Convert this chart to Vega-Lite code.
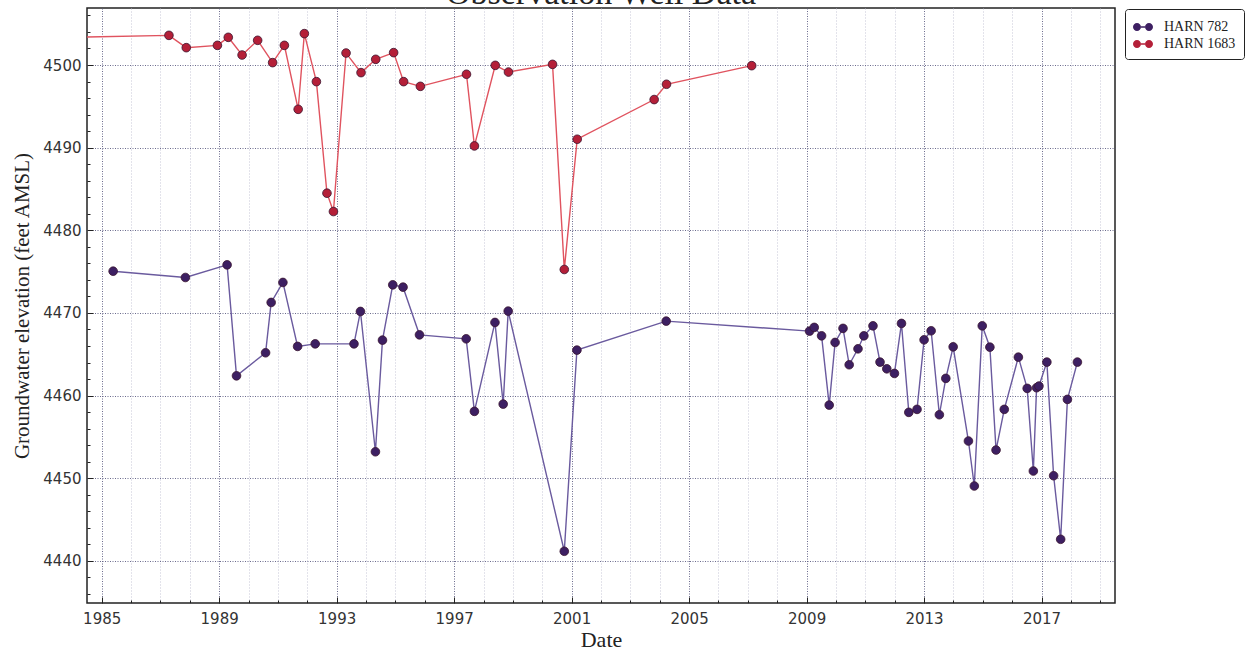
{
  "$schema": "https://vega.github.io/schema/vega-lite/v6.json",
  "width": 1028,
  "height": 595,
  "autosize": {"type": "none"},
  "padding": {"left": 87, "top": 8, "right": 130, "bottom": 53},
  "background": "white",
  "title": {
    "text": "Observation Well Data",
    "font": "Liberation Serif",
    "fontSize": 34,
    "fontWeight": "normal",
    "color": "#222",
    "anchor": "middle",
    "frame": "group",
    "baseline": "alphabetic",
    "offset": -30
  },
  "config": {
    "view": {"stroke": "#222", "strokeWidth": 1.5},
    "axis": {
      "domain": false,
      "labelFont": "DejaVu Sans",
      "labelFontSize": 15,
      "labelColor": "#333",
      "titleFont": "Liberation Serif",
      "titleFontWeight": "normal",
      "titleColor": "#222",
      "tickColor": "#222"
    },
    "legend": {
      "title": null,
      "orient": "none",
      "legendX": 1038,
      "legendY": 1,
      "symbolType": "M-1,0A0.4,0.4,0,1,1,-0.2,0A0.4,0.4,0,1,1,-1,0Z M0.2,0A0.4,0.4,0,1,1,1,0A0.4,0.4,0,1,1,0.2,0Z M-0.2,-0.07L0.2,-0.07L0.2,0.07L-0.2,0.07Z",
      "symbolSize": 400,
      "symbolStrokeWidth": 0,
      "symbolOpacity": 1,
      "labelFont": "Liberation Serif",
      "labelFontSize": 14,
      "labelColor": "#222",
      "labelOffset": 11,
      "rowPadding": 0,
      "padding": 8,
      "strokeColor": "#222",
      "fillColor": "white",
      "cornerRadius": 3
    }
  },
  "data": {
    "values": [
      {"well": "HARN 1683", "year": 1984.0, "elev": 4503.35},
      {"well": "HARN 1683", "year": 1987.29, "elev": 4503.59},
      {"well": "HARN 1683", "year": 1987.88, "elev": 4502.10},
      {"well": "HARN 1683", "year": 1988.94, "elev": 4502.38},
      {"well": "HARN 1683", "year": 1989.31, "elev": 4503.35},
      {"well": "HARN 1683", "year": 1989.78, "elev": 4501.21},
      {"well": "HARN 1683", "year": 1990.31, "elev": 4502.99},
      {"well": "HARN 1683", "year": 1990.82, "elev": 4500.29},
      {"well": "HARN 1683", "year": 1991.22, "elev": 4502.38},
      {"well": "HARN 1683", "year": 1991.69, "elev": 4494.64},
      {"well": "HARN 1683", "year": 1991.90, "elev": 4503.80},
      {"well": "HARN 1683", "year": 1992.31, "elev": 4497.99},
      {"well": "HARN 1683", "year": 1992.67, "elev": 4484.49},
      {"well": "HARN 1683", "year": 1992.89, "elev": 4482.27},
      {"well": "HARN 1683", "year": 1993.32, "elev": 4501.45},
      {"well": "HARN 1683", "year": 1993.83, "elev": 4499.08},
      {"well": "HARN 1683", "year": 1994.33, "elev": 4500.69},
      {"well": "HARN 1683", "year": 1994.94, "elev": 4501.50},
      {"well": "HARN 1683", "year": 1995.28, "elev": 4497.99},
      {"well": "HARN 1683", "year": 1995.85, "elev": 4497.42},
      {"well": "HARN 1683", "year": 1997.42, "elev": 4498.88},
      {"well": "HARN 1683", "year": 1997.69, "elev": 4490.21},
      {"well": "HARN 1683", "year": 1998.40, "elev": 4499.96},
      {"well": "HARN 1683", "year": 1998.85, "elev": 4499.15},
      {"well": "HARN 1683", "year": 2000.35, "elev": 4500.08},
      {"well": "HARN 1683", "year": 2000.75, "elev": 4475.26},
      {"well": "HARN 1683", "year": 2001.19, "elev": 4491.02},
      {"well": "HARN 1683", "year": 2003.81, "elev": 4495.82},
      {"well": "HARN 1683", "year": 2004.23, "elev": 4497.67},
      {"well": "HARN 1683", "year": 2007.13, "elev": 4499.92},
      {"well": "HARN 782", "year": 1985.39, "elev": 4475.05},
      {"well": "HARN 782", "year": 1987.85, "elev": 4474.29},
      {"well": "HARN 782", "year": 1989.27, "elev": 4475.82},
      {"well": "HARN 782", "year": 1989.59, "elev": 4462.39},
      {"well": "HARN 782", "year": 1990.58, "elev": 4465.18},
      {"well": "HARN 782", "year": 1990.77, "elev": 4471.27},
      {"well": "HARN 782", "year": 1991.17, "elev": 4473.69},
      {"well": "HARN 782", "year": 1991.67, "elev": 4465.95},
      {"well": "HARN 782", "year": 1992.27, "elev": 4466.26},
      {"well": "HARN 782", "year": 1993.59, "elev": 4466.26},
      {"well": "HARN 782", "year": 1993.81, "elev": 4470.18},
      {"well": "HARN 782", "year": 1994.32, "elev": 4453.20},
      {"well": "HARN 782", "year": 1994.56, "elev": 4466.71},
      {"well": "HARN 782", "year": 1994.91, "elev": 4473.40},
      {"well": "HARN 782", "year": 1995.26, "elev": 4473.12},
      {"well": "HARN 782", "year": 1995.82, "elev": 4467.35},
      {"well": "HARN 782", "year": 1997.41, "elev": 4466.87},
      {"well": "HARN 782", "year": 1997.69, "elev": 4458.09},
      {"well": "HARN 782", "year": 1998.39, "elev": 4468.85},
      {"well": "HARN 782", "year": 1998.67, "elev": 4458.97},
      {"well": "HARN 782", "year": 1998.84, "elev": 4470.22},
      {"well": "HARN 782", "year": 2000.75, "elev": 4441.16},
      {"well": "HARN 782", "year": 2001.18, "elev": 4465.50},
      {"well": "HARN 782", "year": 2004.22, "elev": 4469.01},
      {"well": "HARN 782", "year": 2009.10, "elev": 4467.80},
      {"well": "HARN 782", "year": 2009.26, "elev": 4468.25},
      {"well": "HARN 782", "year": 2009.51, "elev": 4467.23},
      {"well": "HARN 782", "year": 2009.77, "elev": 4458.85},
      {"well": "HARN 782", "year": 2009.97, "elev": 4466.43},
      {"well": "HARN 782", "year": 2010.24, "elev": 4468.13},
      {"well": "HARN 782", "year": 2010.45, "elev": 4463.73},
      {"well": "HARN 782", "year": 2010.75, "elev": 4465.66},
      {"well": "HARN 782", "year": 2010.95, "elev": 4467.23},
      {"well": "HARN 782", "year": 2011.26, "elev": 4468.44},
      {"well": "HARN 782", "year": 2011.50, "elev": 4464.05},
      {"well": "HARN 782", "year": 2011.73, "elev": 4463.24},
      {"well": "HARN 782", "year": 2011.99, "elev": 4462.68},
      {"well": "HARN 782", "year": 2012.23, "elev": 4468.73},
      {"well": "HARN 782", "year": 2012.48, "elev": 4457.97},
      {"well": "HARN 782", "year": 2012.76, "elev": 4458.33},
      {"well": "HARN 782", "year": 2013.00, "elev": 4466.75},
      {"well": "HARN 782", "year": 2013.24, "elev": 4467.84},
      {"well": "HARN 782", "year": 2013.52, "elev": 4457.68},
      {"well": "HARN 782", "year": 2013.74, "elev": 4462.08},
      {"well": "HARN 782", "year": 2013.99, "elev": 4465.90},
      {"well": "HARN 782", "year": 2014.51, "elev": 4454.50},
      {"well": "HARN 782", "year": 2014.71, "elev": 4449.06},
      {"well": "HARN 782", "year": 2014.98, "elev": 4468.44},
      {"well": "HARN 782", "year": 2015.24, "elev": 4465.86},
      {"well": "HARN 782", "year": 2015.45, "elev": 4453.41},
      {"well": "HARN 782", "year": 2015.73, "elev": 4458.33},
      {"well": "HARN 782", "year": 2016.21, "elev": 4464.65},
      {"well": "HARN 782", "year": 2016.51, "elev": 4460.87},
      {"well": "HARN 782", "year": 2016.72, "elev": 4450.87},
      {"well": "HARN 782", "year": 2016.83, "elev": 4460.95},
      {"well": "HARN 782", "year": 2016.91, "elev": 4461.15},
      {"well": "HARN 782", "year": 2017.18, "elev": 4464.05},
      {"well": "HARN 782", "year": 2017.41, "elev": 4450.30},
      {"well": "HARN 782", "year": 2017.65, "elev": 4442.61},
      {"well": "HARN 782", "year": 2017.88, "elev": 4459.54},
      {"well": "HARN 782", "year": 2018.22, "elev": 4464.05}
    ]
  },
  "resolve": {"axis": {"x": "independent", "y": "independent"}},
  "layer": [
    {
      "mark": {"type": "line", "clip": true, "strokeWidth": 1.4},
      "encoding": {
        "x": {
          "field": "year", "type": "quantitative",
          "scale": {"domain": [1984.5, 2019.5], "nice": false, "zero": false},
          "axis": {
            "orient": "bottom",
            "values": [1985, 1989, 1993, 1997, 2001, 2005, 2009, 2013, 2017],
            "format": "d",
            "grid": true,
            "gridColor": "#5a5a80",
            "gridDash": [1, 1.5],
            "gridWidth": 0.9,
            "tickSize": -6,
            "tickWidth": 1,
            "labelPadding": 14,
            "title": "Date",
            "titleFontSize": 22,
            "titlePadding": 3
          }
        },
        "y": {
          "field": "elev", "type": "quantitative",
          "scale": {"domain": [4434.9, 4506.9], "nice": false, "zero": false},
          "axis": {
            "orient": "left",
            "values": [4440, 4450, 4460, 4470, 4480, 4490, 4500],
            "format": "d",
            "grid": true,
            "gridColor": "#5a5a80",
            "gridDash": [1, 1.5],
            "gridWidth": 0.9,
            "tickSize": -6,
            "tickWidth": 1,
            "labelPadding": 12,
            "title": "Groundwater elevation (feet AMSL)",
            "titleFontSize": 21,
            "titlePadding": 10
          }
        },
        "stroke": {
          "field": "well", "type": "nominal",
          "scale": {"domain": ["HARN 782", "HARN 1683"], "range": ["#6a5a9e", "#e0535f"]}
        },
        "detail": {"field": "well"}
      }
    },
    {
      "mark": {"type": "point", "filled": true, "clip": true, "size": 75, "opacity": 1, "stroke": "#3a1530", "strokeWidth": 0.8},
      "encoding": {
        "x": {
          "field": "year", "type": "quantitative",
          "axis": {
            "orient": "bottom",
            "values": [1984, 1986, 1987, 1988, 1990, 1991, 1992, 1994, 1995, 1996, 1998, 1999, 2000, 2002, 2003, 2004, 2006, 2007, 2008, 2010, 2011, 2012, 2014, 2015, 2016, 2018, 2019],
            "labels": false,
            "grid": true,
            "gridColor": "#b8b8cc",
            "gridDash": [1, 2],
            "gridWidth": 0.8,
            "tickSize": -3,
            "tickWidth": 1,
            "title": null
          }
        },
        "y": {
          "field": "elev", "type": "quantitative",
          "axis": {
            "orient": "left",
            "values": [4436, 4438, 4442, 4444, 4446, 4448, 4452, 4454, 4456, 4458, 4462, 4464, 4466, 4468, 4472, 4474, 4476, 4478, 4482, 4484, 4486, 4488, 4492, 4494, 4496, 4498, 4502, 4504, 4506],
            "labels": false,
            "grid": false,
            "tickSize": -3,
            "tickWidth": 1,
            "title": null
          }
        },
        "fill": {
          "field": "well", "type": "nominal",
          "scale": {"domain": ["HARN 782", "HARN 1683"], "range": ["#3d1f62", "#b41f38"]}
        }
      }
    }
  ]
}
